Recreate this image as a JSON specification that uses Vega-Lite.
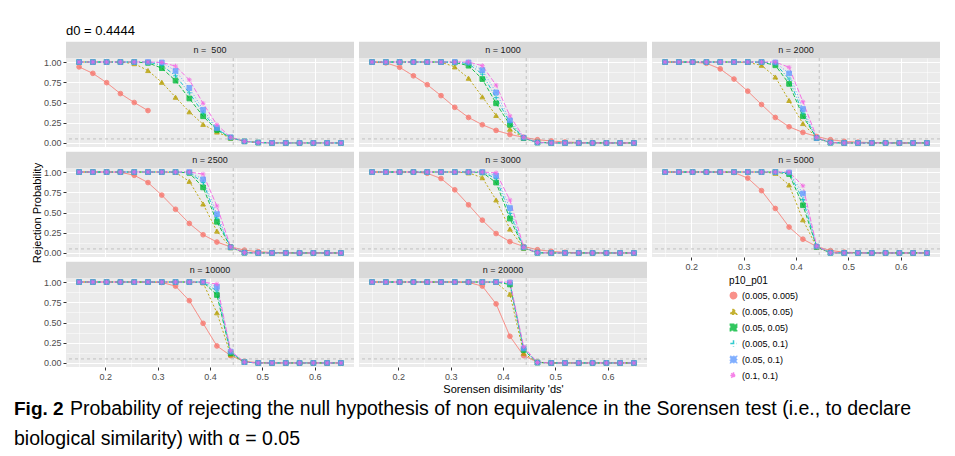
{
  "$schema": "https://vega.github.io/schema/vega-lite/v6.json",
  "background": "white",
  "padding": {"left": 14, "top": 24, "right": 0, "bottom": 0},
  "config": {
    "font": "Liberation Sans",
    "view": {"stroke": null},
    "title": {"fontWeight": "normal", "color": "#000000"}
  },
  "datasets": {
    "d": [
      {"p":"n = \u00a0500","x":0.15,"a":0.94,"b":1,"c":1,"d":1,"e":1,"f":1},
      {"p":"n = \u00a0500","x":0.1763,"a":0.86,"b":1,"c":1,"d":1,"e":1,"f":1},
      {"p":"n = \u00a0500","x":0.2026,"a":0.745,"b":1,"c":1,"d":1,"e":1,"f":1},
      {"p":"n = \u00a0500","x":0.2289,"a":0.61,"b":1,"c":1,"d":1,"e":1,"f":1},
      {"p":"n = \u00a0500","x":0.2553,"a":0.5,"b":0.98,"c":1,"d":1,"e":1,"f":1},
      {"p":"n = \u00a0500","x":0.2816,"a":0.4,"b":0.895,"c":0.99,"d":1,"e":1,"f":1},
      {"p":"n = \u00a0500","x":0.3079,"a":null,"b":0.75,"c":0.925,"d":0.96,"e":0.995,"f":0.995},
      {"p":"n = \u00a0500","x":0.3342,"a":null,"b":0.565,"c":0.77,"d":0.83,"e":0.89,"f":0.95},
      {"p":"n = \u00a0500","x":0.3605,"a":null,"b":0.385,"c":0.55,"d":0.62,"e":0.68,"f":0.78},
      {"p":"n = \u00a0500","x":0.3868,"a":null,"b":0.23,"c":0.33,"d":0.37,"e":0.41,"f":0.49},
      {"p":"n = \u00a0500","x":0.4132,"a":null,"b":0.135,"c":0.16,"d":0.17,"e":0.185,"f":0.225},
      {"p":"n = \u00a0500","x":0.4395,"a":null,"b":0.06,"c":0.065,"d":0.065,"e":0.07,"f":0.07},
      {"p":"n = \u00a0500","x":0.4658,"a":null,"b":0.02,"c":0.02,"d":0.02,"e":0.02,"f":0.02},
      {"p":"n = \u00a0500","x":0.4921,"a":null,"b":0.005,"c":0.005,"d":0.005,"e":0.005,"f":0.005},
      {"p":"n = \u00a0500","x":0.5184,"a":null,"b":0,"c":0,"d":0,"e":0,"f":0},
      {"p":"n = \u00a0500","x":0.5447,"a":null,"b":0,"c":0,"d":0,"e":0,"f":0},
      {"p":"n = \u00a0500","x":0.5711,"a":null,"b":0,"c":0,"d":0,"e":0,"f":0},
      {"p":"n = \u00a0500","x":0.5974,"a":null,"b":0,"c":0,"d":0,"e":0,"f":0},
      {"p":"n = \u00a0500","x":0.6237,"a":null,"b":0,"c":0,"d":0,"e":0,"f":0},
      {"p":"n = \u00a0500","x":0.65,"a":null,"b":0,"c":0,"d":0,"e":0,"f":0},

      {"p":"n = 1000","x":0.15,"a":1,"b":1,"c":1,"d":1,"e":1,"f":1},
      {"p":"n = 1000","x":0.1763,"a":0.99,"b":1,"c":1,"d":1,"e":1,"f":1},
      {"p":"n = 1000","x":0.2026,"a":0.935,"b":1,"c":1,"d":1,"e":1,"f":1},
      {"p":"n = 1000","x":0.2289,"a":0.83,"b":1,"c":1,"d":1,"e":1,"f":1},
      {"p":"n = 1000","x":0.2553,"a":0.72,"b":1,"c":1,"d":1,"e":1,"f":1},
      {"p":"n = 1000","x":0.2816,"a":0.585,"b":1,"c":1,"d":1,"e":1,"f":1},
      {"p":"n = 1000","x":0.3079,"a":0.44,"b":0.94,"c":0.995,"d":1,"e":1,"f":1},
      {"p":"n = 1000","x":0.3342,"a":0.315,"b":0.8,"c":0.955,"d":0.98,"e":0.995,"f":1},
      {"p":"n = 1000","x":0.3605,"a":0.225,"b":0.57,"c":0.79,"d":0.85,"e":0.9,"f":0.955},
      {"p":"n = 1000","x":0.3868,"a":0.155,"b":0.34,"c":0.49,"d":0.56,"e":0.625,"f":0.715},
      {"p":"n = 1000","x":0.4132,"a":0.105,"b":0.17,"c":0.225,"d":0.25,"e":0.28,"f":0.335},
      {"p":"n = 1000","x":0.4395,"a":0.07,"b":0.06,"c":0.06,"d":0.06,"e":0.065,"f":0.07},
      {"p":"n = 1000","x":0.4658,"a":0.04,"b":0.01,"c":0.005,"d":0.005,"e":0.005,"f":0.005},
      {"p":"n = 1000","x":0.4921,"a":0.025,"b":0.002,"c":0,"d":0,"e":0,"f":0},
      {"p":"n = 1000","x":0.5184,"a":0.012,"b":0,"c":0,"d":0,"e":0,"f":0},
      {"p":"n = 1000","x":0.5447,"a":0.006,"b":0,"c":0,"d":0,"e":0,"f":0},
      {"p":"n = 1000","x":0.5711,"a":0.003,"b":0,"c":0,"d":0,"e":0,"f":0},
      {"p":"n = 1000","x":0.5974,"a":0.001,"b":0,"c":0,"d":0,"e":0,"f":0},
      {"p":"n = 1000","x":0.6237,"a":0,"b":0,"c":0,"d":0,"e":0,"f":0},
      {"p":"n = 1000","x":0.65,"a":0,"b":0,"c":0,"d":0,"e":0,"f":0},

      {"p":"n = 2000","x":0.15,"a":1,"b":1,"c":1,"d":1,"e":1,"f":1},
      {"p":"n = 2000","x":0.1763,"a":1,"b":1,"c":1,"d":1,"e":1,"f":1},
      {"p":"n = 2000","x":0.2026,"a":0.998,"b":1,"c":1,"d":1,"e":1,"f":1},
      {"p":"n = 2000","x":0.2289,"a":0.985,"b":1,"c":1,"d":1,"e":1,"f":1},
      {"p":"n = 2000","x":0.2553,"a":0.915,"b":1,"c":1,"d":1,"e":1,"f":1},
      {"p":"n = 2000","x":0.2816,"a":0.79,"b":1,"c":1,"d":1,"e":1,"f":1},
      {"p":"n = 2000","x":0.3079,"a":0.64,"b":0.995,"c":1,"d":1,"e":1,"f":1},
      {"p":"n = 2000","x":0.3342,"a":0.475,"b":0.96,"c":0.998,"d":1,"e":1,"f":1},
      {"p":"n = 2000","x":0.3605,"a":0.315,"b":0.815,"c":0.96,"d":0.98,"e":0.995,"f":1},
      {"p":"n = 2000","x":0.3868,"a":0.2,"b":0.525,"c":0.73,"d":0.79,"e":0.86,"f":0.935},
      {"p":"n = 2000","x":0.4132,"a":0.13,"b":0.24,"c":0.33,"d":0.37,"e":0.42,"f":0.51},
      {"p":"n = 2000","x":0.4395,"a":0.08,"b":0.06,"c":0.06,"d":0.06,"e":0.06,"f":0.07},
      {"p":"n = 2000","x":0.4658,"a":0.04,"b":0.005,"c":0.003,"d":0.003,"e":0.003,"f":0.003},
      {"p":"n = 2000","x":0.4921,"a":0.02,"b":0,"c":0,"d":0,"e":0,"f":0},
      {"p":"n = 2000","x":0.5184,"a":0.01,"b":0,"c":0,"d":0,"e":0,"f":0},
      {"p":"n = 2000","x":0.5447,"a":0.005,"b":0,"c":0,"d":0,"e":0,"f":0},
      {"p":"n = 2000","x":0.5711,"a":0.002,"b":0,"c":0,"d":0,"e":0,"f":0},
      {"p":"n = 2000","x":0.5974,"a":0,"b":0,"c":0,"d":0,"e":0,"f":0},
      {"p":"n = 2000","x":0.6237,"a":0,"b":0,"c":0,"d":0,"e":0,"f":0},
      {"p":"n = 2000","x":0.65,"a":0,"b":0,"c":0,"d":0,"e":0,"f":0},

      {"p":"n = 2500","x":0.15,"a":1,"b":1,"c":1,"d":1,"e":1,"f":1},
      {"p":"n = 2500","x":0.1763,"a":1,"b":1,"c":1,"d":1,"e":1,"f":1},
      {"p":"n = 2500","x":0.2026,"a":1,"b":1,"c":1,"d":1,"e":1,"f":1},
      {"p":"n = 2500","x":0.2289,"a":0.998,"b":1,"c":1,"d":1,"e":1,"f":1},
      {"p":"n = 2500","x":0.2553,"a":0.96,"b":1,"c":1,"d":1,"e":1,"f":1},
      {"p":"n = 2500","x":0.2816,"a":0.87,"b":1,"c":1,"d":1,"e":1,"f":1},
      {"p":"n = 2500","x":0.3079,"a":0.715,"b":1,"c":1,"d":1,"e":1,"f":1},
      {"p":"n = 2500","x":0.3342,"a":0.54,"b":0.995,"c":1,"d":1,"e":1,"f":1},
      {"p":"n = 2500","x":0.3605,"a":0.365,"b":0.885,"c":0.99,"d":0.995,"e":1,"f":1},
      {"p":"n = 2500","x":0.3868,"a":0.225,"b":0.605,"c":0.81,"d":0.87,"e":0.91,"f":0.975},
      {"p":"n = 2500","x":0.4132,"a":0.135,"b":0.27,"c":0.385,"d":0.43,"e":0.48,"f":0.58},
      {"p":"n = 2500","x":0.4395,"a":0.075,"b":0.065,"c":0.07,"d":0.07,"e":0.07,"f":0.075},
      {"p":"n = 2500","x":0.4658,"a":0.035,"b":0.005,"c":0.003,"d":0.003,"e":0.003,"f":0.003},
      {"p":"n = 2500","x":0.4921,"a":0.015,"b":0,"c":0,"d":0,"e":0,"f":0},
      {"p":"n = 2500","x":0.5184,"a":0.006,"b":0,"c":0,"d":0,"e":0,"f":0},
      {"p":"n = 2500","x":0.5447,"a":0.002,"b":0,"c":0,"d":0,"e":0,"f":0},
      {"p":"n = 2500","x":0.5711,"a":0,"b":0,"c":0,"d":0,"e":0,"f":0},
      {"p":"n = 2500","x":0.5974,"a":0,"b":0,"c":0,"d":0,"e":0,"f":0},
      {"p":"n = 2500","x":0.6237,"a":0,"b":0,"c":0,"d":0,"e":0,"f":0},
      {"p":"n = 2500","x":0.65,"a":0,"b":0,"c":0,"d":0,"e":0,"f":0},

      {"p":"n = 3000","x":0.15,"a":1,"b":1,"c":1,"d":1,"e":1,"f":1},
      {"p":"n = 3000","x":0.1763,"a":1,"b":1,"c":1,"d":1,"e":1,"f":1},
      {"p":"n = 3000","x":0.2026,"a":1,"b":1,"c":1,"d":1,"e":1,"f":1},
      {"p":"n = 3000","x":0.2289,"a":1,"b":1,"c":1,"d":1,"e":1,"f":1},
      {"p":"n = 3000","x":0.2553,"a":0.985,"b":1,"c":1,"d":1,"e":1,"f":1},
      {"p":"n = 3000","x":0.2816,"a":0.92,"b":1,"c":1,"d":1,"e":1,"f":1},
      {"p":"n = 3000","x":0.3079,"a":0.78,"b":1,"c":1,"d":1,"e":1,"f":1},
      {"p":"n = 3000","x":0.3342,"a":0.595,"b":0.99,"c":1,"d":1,"e":1,"f":1},
      {"p":"n = 3000","x":0.3605,"a":0.405,"b":0.93,"c":0.995,"d":1,"e":1,"f":1},
      {"p":"n = 3000","x":0.3868,"a":0.24,"b":0.655,"c":0.87,"d":0.92,"e":0.955,"f":0.99},
      {"p":"n = 3000","x":0.4132,"a":0.14,"b":0.295,"c":0.425,"d":0.49,"e":0.555,"f":0.655},
      {"p":"n = 3000","x":0.4395,"a":0.08,"b":0.06,"c":0.065,"d":0.065,"e":0.07,"f":0.07},
      {"p":"n = 3000","x":0.4658,"a":0.04,"b":0.003,"c":0.002,"d":0.002,"e":0.002,"f":0.002},
      {"p":"n = 3000","x":0.4921,"a":0.02,"b":0,"c":0,"d":0,"e":0,"f":0},
      {"p":"n = 3000","x":0.5184,"a":0.008,"b":0,"c":0,"d":0,"e":0,"f":0},
      {"p":"n = 3000","x":0.5447,"a":0.003,"b":0,"c":0,"d":0,"e":0,"f":0},
      {"p":"n = 3000","x":0.5711,"a":0,"b":0,"c":0,"d":0,"e":0,"f":0},
      {"p":"n = 3000","x":0.5974,"a":0,"b":0,"c":0,"d":0,"e":0,"f":0},
      {"p":"n = 3000","x":0.6237,"a":0,"b":0,"c":0,"d":0,"e":0,"f":0},
      {"p":"n = 3000","x":0.65,"a":0,"b":0,"c":0,"d":0,"e":0,"f":0},

      {"p":"n = 5000","x":0.15,"a":1,"b":1,"c":1,"d":1,"e":1,"f":1},
      {"p":"n = 5000","x":0.1763,"a":1,"b":1,"c":1,"d":1,"e":1,"f":1},
      {"p":"n = 5000","x":0.2026,"a":1,"b":1,"c":1,"d":1,"e":1,"f":1},
      {"p":"n = 5000","x":0.2289,"a":1,"b":1,"c":1,"d":1,"e":1,"f":1},
      {"p":"n = 5000","x":0.2553,"a":1,"b":1,"c":1,"d":1,"e":1,"f":1},
      {"p":"n = 5000","x":0.2816,"a":0.995,"b":1,"c":1,"d":1,"e":1,"f":1},
      {"p":"n = 5000","x":0.3079,"a":0.925,"b":1,"c":1,"d":1,"e":1,"f":1},
      {"p":"n = 5000","x":0.3342,"a":0.77,"b":1,"c":1,"d":1,"e":1,"f":1},
      {"p":"n = 5000","x":0.3605,"a":0.55,"b":0.985,"c":1,"d":1,"e":1,"f":1},
      {"p":"n = 5000","x":0.3868,"a":0.32,"b":0.84,"c":0.975,"d":0.99,"e":0.995,"f":1},
      {"p":"n = 5000","x":0.4132,"a":0.17,"b":0.41,"c":0.59,"d":0.66,"e":0.735,"f":0.83},
      {"p":"n = 5000","x":0.4395,"a":0.08,"b":0.07,"c":0.075,"d":0.08,"e":0.08,"f":0.085},
      {"p":"n = 5000","x":0.4658,"a":0.03,"b":0.002,"c":0.002,"d":0.002,"e":0.002,"f":0.002},
      {"p":"n = 5000","x":0.4921,"a":0.01,"b":0,"c":0,"d":0,"e":0,"f":0},
      {"p":"n = 5000","x":0.5184,"a":0.003,"b":0,"c":0,"d":0,"e":0,"f":0},
      {"p":"n = 5000","x":0.5447,"a":0,"b":0,"c":0,"d":0,"e":0,"f":0},
      {"p":"n = 5000","x":0.5711,"a":0,"b":0,"c":0,"d":0,"e":0,"f":0},
      {"p":"n = 5000","x":0.5974,"a":0,"b":0,"c":0,"d":0,"e":0,"f":0},
      {"p":"n = 5000","x":0.6237,"a":0,"b":0,"c":0,"d":0,"e":0,"f":0},
      {"p":"n = 5000","x":0.65,"a":0,"b":0,"c":0,"d":0,"e":0,"f":0},

      {"p":"n = 10000","x":0.15,"a":1,"b":1,"c":1,"d":1,"e":1,"f":1},
      {"p":"n = 10000","x":0.1763,"a":1,"b":1,"c":1,"d":1,"e":1,"f":1},
      {"p":"n = 10000","x":0.2026,"a":1,"b":1,"c":1,"d":1,"e":1,"f":1},
      {"p":"n = 10000","x":0.2289,"a":1,"b":1,"c":1,"d":1,"e":1,"f":1},
      {"p":"n = 10000","x":0.2553,"a":1,"b":1,"c":1,"d":1,"e":1,"f":1},
      {"p":"n = 10000","x":0.2816,"a":1,"b":1,"c":1,"d":1,"e":1,"f":1},
      {"p":"n = 10000","x":0.3079,"a":0.995,"b":1,"c":1,"d":1,"e":1,"f":1},
      {"p":"n = 10000","x":0.3342,"a":0.95,"b":1,"c":1,"d":1,"e":1,"f":1},
      {"p":"n = 10000","x":0.3605,"a":0.77,"b":1,"c":1,"d":1,"e":1,"f":1},
      {"p":"n = 10000","x":0.3868,"a":0.49,"b":0.99,"c":1,"d":1,"e":1,"f":1},
      {"p":"n = 10000","x":0.4132,"a":0.21,"b":0.62,"c":0.84,"d":0.89,"e":0.94,"f":0.975},
      {"p":"n = 10000","x":0.4395,"a":0.09,"b":0.1,"c":0.12,"d":0.13,"e":0.14,"f":0.15},
      {"p":"n = 10000","x":0.4658,"a":0.02,"b":0.01,"c":0.01,"d":0.01,"e":0.01,"f":0.01},
      {"p":"n = 10000","x":0.4921,"a":0.003,"b":0,"c":0,"d":0,"e":0,"f":0},
      {"p":"n = 10000","x":0.5184,"a":0,"b":0,"c":0,"d":0,"e":0,"f":0},
      {"p":"n = 10000","x":0.5447,"a":0,"b":0,"c":0,"d":0,"e":0,"f":0},
      {"p":"n = 10000","x":0.5711,"a":0,"b":0,"c":0,"d":0,"e":0,"f":0},
      {"p":"n = 10000","x":0.5974,"a":0,"b":0,"c":0,"d":0,"e":0,"f":0},
      {"p":"n = 10000","x":0.6237,"a":0,"b":0,"c":0,"d":0,"e":0,"f":0},
      {"p":"n = 10000","x":0.65,"a":0,"b":0,"c":0,"d":0,"e":0,"f":0},

      {"p":"n = 20000","x":0.15,"a":1,"b":1,"c":1,"d":1,"e":1,"f":1},
      {"p":"n = 20000","x":0.1763,"a":1,"b":1,"c":1,"d":1,"e":1,"f":1},
      {"p":"n = 20000","x":0.2026,"a":1,"b":1,"c":1,"d":1,"e":1,"f":1},
      {"p":"n = 20000","x":0.2289,"a":1,"b":1,"c":1,"d":1,"e":1,"f":1},
      {"p":"n = 20000","x":0.2553,"a":1,"b":1,"c":1,"d":1,"e":1,"f":1},
      {"p":"n = 20000","x":0.2816,"a":1,"b":1,"c":1,"d":1,"e":1,"f":1},
      {"p":"n = 20000","x":0.3079,"a":1,"b":1,"c":1,"d":1,"e":1,"f":1},
      {"p":"n = 20000","x":0.3342,"a":0.995,"b":1,"c":1,"d":1,"e":1,"f":1},
      {"p":"n = 20000","x":0.3605,"a":0.95,"b":1,"c":1,"d":1,"e":1,"f":1},
      {"p":"n = 20000","x":0.3868,"a":0.73,"b":0.995,"c":1,"d":1,"e":1,"f":1},
      {"p":"n = 20000","x":0.4132,"a":0.33,"b":0.85,"c":0.97,"d":0.985,"e":0.995,"f":1},
      {"p":"n = 20000","x":0.4395,"a":0.09,"b":0.12,"c":0.16,"d":0.17,"e":0.18,"f":0.2},
      {"p":"n = 20000","x":0.4658,"a":0.01,"b":0.005,"c":0.005,"d":0.005,"e":0.005,"f":0.005},
      {"p":"n = 20000","x":0.4921,"a":0,"b":0,"c":0,"d":0,"e":0,"f":0},
      {"p":"n = 20000","x":0.5184,"a":0,"b":0,"c":0,"d":0,"e":0,"f":0},
      {"p":"n = 20000","x":0.5447,"a":0,"b":0,"c":0,"d":0,"e":0,"f":0},
      {"p":"n = 20000","x":0.5711,"a":0,"b":0,"c":0,"d":0,"e":0,"f":0},
      {"p":"n = 20000","x":0.5974,"a":0,"b":0,"c":0,"d":0,"e":0,"f":0},
      {"p":"n = 20000","x":0.6237,"a":0,"b":0,"c":0,"d":0,"e":0,"f":0},
      {"p":"n = 20000","x":0.65,"a":0,"b":0,"c":0,"d":0,"e":0,"f":0}
    ]
  },
  "spacing": 4,
  "vconcat": [
    {
      "spacing": 16,
      "hconcat": [
        {"data": {"values": []}, "mark": "point", "width": 1, "height": 1},
        {
          "title": {"text": "d0 = 0.4444", "anchor": "start", "frame": "group", "fontSize": 13, "offset": 4},
          "columns": 3,
          "spacing": {"row": 21, "column": 5},
          "bounds": "flush",
          "resolve": {"scale": {"color": "independent", "stroke": "independent", "shape": "independent", "fillOpacity": "independent", "strokeDash": "independent"}},
          "concat": [
            {
              "data": {"name": "d"},
              "transform": [{"filter": "datum.p == 'n = \u00a0500'"}, {"fold": ["a", "b", "c", "d", "e", "f"], "as": ["s", "y"]}],
              "width": 288, "height": 89, "view": {"fill": "#EBEBEB", "stroke": null},
              "resolve": {"axis": {"x": "independent", "y": "independent"}},
              "layer": [
                {"mark": {"type": "line", "strokeWidth": 0.9},
                 "encoding": {
                   "x": {"field": "x", "type": "quantitative", "scale": {"domain": [0.125, 0.675], "nice": false, "zero": false},
                     "axis": {"title": null, "values": [0.2, 0.3, 0.4, 0.5, 0.6], "labels": false, "ticks": false, "domain": false, "grid": true, "gridColor": "#FFFFFF", "gridWidth": 1.1}},
                   "y": {"field": "y", "type": "quantitative", "scale": {"domain": [-0.05, 1.05], "nice": false, "zero": false},
                     "axis": {"title": null, "values": [0, 0.25, 0.5, 0.75, 1], "format": ".2f", "labelOverlap": false, "tickSize": 3, "tickColor": "#333333", "domain": false, "labelColor": "#4D4D4D", "labelFontSize": 9, "labelPadding": 2, "grid": true, "gridColor": "#FFFFFF", "gridWidth": 1.1}},
                   "color": {"field": "s", "type": "nominal", "scale": {"domain": ["a", "b", "c", "d", "e", "f"], "range": ["#F8766D", "#B79F00", "#00BA38", "#00BFC4", "#619CFF", "#F564E3"]}, "legend": null},
                   "strokeDash": {"field": "s", "type": "nominal", "scale": {"domain": ["a", "b", "c", "d", "e", "f"], "range": [[1, 0], [2, 2], [4, 2], [4, 2, 1, 2], [1, 2], [5, 2]]}, "legend": null}}},
                {"mark": {"type": "point", "filled": true, "size": 22, "opacity": 0.8, "strokeWidth": 1},
                 "encoding": {
                   "x": {"field": "x", "type": "quantitative", "axis": {"orient": "top", "title": null, "values": [0.15, 0.25, 0.35, 0.45, 0.55, 0.65], "labels": false, "ticks": false, "domain": false, "grid": true, "gridColor": "#FFFFFF", "gridWidth": 0.5}},
                   "y": {"field": "y", "type": "quantitative", "axis": {"orient": "right", "title": null, "values": [0.125, 0.375, 0.625, 0.875], "labels": false, "ticks": false, "domain": false, "grid": true, "gridColor": "#FFFFFF", "gridWidth": 0.5}},
                   "color": {"field": "s", "type": "nominal", "legend": null},
                   "stroke": {"field": "s", "type": "nominal", "scale": {"domain": ["a", "b", "c", "d", "e", "f"], "range": ["#F8766D", "#B79F00", "#00BA38", "#00BFC4", "#619CFF", "#F564E3"]}, "legend": null},
                   "fillOpacity": {"field": "s", "type": "nominal", "scale": {"domain": ["a", "b", "c", "d", "e", "f"], "range": [1, 1, 1, 0, 0.15, 0]}, "legend": null},
                   "shape": {"field": "s", "type": "nominal", "scale": {"domain": ["a", "b", "c", "d", "e", "f"], "range": ["circle", "triangle-up", "square", "M-1,0H1M0,-1V1", "M-1,-1H1V1H-1ZM-1,-1L1,1M-1,1L1,-1", "M-1,0H1M0,-1V1M-0.7,-0.7L0.7,0.7M-0.7,0.7L0.7,-0.7"]}, "legend": null}}},
                {"transform": [{"aggregate": [{"op": "count", "as": "cnt"}], "groupby": ["p"]}],
                 "layer": [
                   {"mark": {"type": "rect", "fill": "#D9D9D9"}, "encoding": {"x": {"datum": 0.125, "type": "quantitative", "axis": null}, "x2": {"datum": 0.675}, "y": {"datum": 1.05, "type": "quantitative", "axis": null}, "y2": {"datum": 1.25}}},
                   {"mark": {"type": "text", "fontSize": 9, "color": "#1A1A1A"}, "encoding": {"x": {"datum": 0.4, "type": "quantitative", "axis": null}, "y": {"datum": 1.15, "type": "quantitative", "axis": null}, "text": {"field": "p"}}},
                   {"mark": {"type": "rule", "strokeDash": [3, 3], "color": "#AFAFAF", "strokeWidth": 0.7}, "encoding": {"y": {"datum": 0.05, "type": "quantitative", "axis": null}}},
                   {"mark": {"type": "rule", "strokeDash": [3, 3], "color": "#AFAFAF", "strokeWidth": 0.7}, "encoding": {"x": {"datum": 0.4444, "type": "quantitative", "axis": null}}}
                 ]}
              ]
            },
            {
              "data": {"name": "d"},
              "transform": [{"filter": "datum.p == 'n = 1000'"}, {"fold": ["a", "b", "c", "d", "e", "f"], "as": ["s", "y"]}],
              "width": 288, "height": 89, "view": {"fill": "#EBEBEB", "stroke": null},
              "resolve": {"axis": {"x": "independent", "y": "independent"}},
              "layer": [
                {"mark": {"type": "line", "strokeWidth": 0.9},
                 "encoding": {
                   "x": {"field": "x", "type": "quantitative", "scale": {"domain": [0.125, 0.675], "nice": false, "zero": false},
                     "axis": {"title": null, "values": [0.2, 0.3, 0.4, 0.5, 0.6], "labels": false, "ticks": false, "domain": false, "grid": true, "gridColor": "#FFFFFF", "gridWidth": 1.1}},
                   "y": {"field": "y", "type": "quantitative", "scale": {"domain": [-0.05, 1.05], "nice": false, "zero": false},
                     "axis": {"title": null, "values": [0, 0.25, 0.5, 0.75, 1], "labels": false, "ticks": false, "domain": false, "grid": true, "gridColor": "#FFFFFF", "gridWidth": 1.1}},
                   "color": {"field": "s", "type": "nominal", "scale": {"domain": ["a", "b", "c", "d", "e", "f"], "range": ["#F8766D", "#B79F00", "#00BA38", "#00BFC4", "#619CFF", "#F564E3"]}, "legend": null},
                   "strokeDash": {"field": "s", "type": "nominal", "scale": {"domain": ["a", "b", "c", "d", "e", "f"], "range": [[1, 0], [2, 2], [4, 2], [4, 2, 1, 2], [1, 2], [5, 2]]}, "legend": null}}},
                {"mark": {"type": "point", "filled": true, "size": 22, "opacity": 0.8, "strokeWidth": 1},
                 "encoding": {
                   "x": {"field": "x", "type": "quantitative", "axis": {"orient": "top", "title": null, "values": [0.15, 0.25, 0.35, 0.45, 0.55, 0.65], "labels": false, "ticks": false, "domain": false, "grid": true, "gridColor": "#FFFFFF", "gridWidth": 0.5}},
                   "y": {"field": "y", "type": "quantitative", "axis": {"orient": "right", "title": null, "values": [0.125, 0.375, 0.625, 0.875], "labels": false, "ticks": false, "domain": false, "grid": true, "gridColor": "#FFFFFF", "gridWidth": 0.5}},
                   "color": {"field": "s", "type": "nominal", "legend": null},
                   "stroke": {"field": "s", "type": "nominal", "scale": {"domain": ["a", "b", "c", "d", "e", "f"], "range": ["#F8766D", "#B79F00", "#00BA38", "#00BFC4", "#619CFF", "#F564E3"]}, "legend": null},
                   "fillOpacity": {"field": "s", "type": "nominal", "scale": {"domain": ["a", "b", "c", "d", "e", "f"], "range": [1, 1, 1, 0, 0.15, 0]}, "legend": null},
                   "shape": {"field": "s", "type": "nominal", "scale": {"domain": ["a", "b", "c", "d", "e", "f"], "range": ["circle", "triangle-up", "square", "M-1,0H1M0,-1V1", "M-1,-1H1V1H-1ZM-1,-1L1,1M-1,1L1,-1", "M-1,0H1M0,-1V1M-0.7,-0.7L0.7,0.7M-0.7,0.7L0.7,-0.7"]}, "legend": null}}},
                {"transform": [{"aggregate": [{"op": "count", "as": "cnt"}], "groupby": ["p"]}],
                 "layer": [
                   {"mark": {"type": "rect", "fill": "#D9D9D9"}, "encoding": {"x": {"datum": 0.125, "type": "quantitative", "axis": null}, "x2": {"datum": 0.675}, "y": {"datum": 1.05, "type": "quantitative", "axis": null}, "y2": {"datum": 1.25}}},
                   {"mark": {"type": "text", "fontSize": 9, "color": "#1A1A1A"}, "encoding": {"x": {"datum": 0.4, "type": "quantitative", "axis": null}, "y": {"datum": 1.15, "type": "quantitative", "axis": null}, "text": {"field": "p"}}},
                   {"mark": {"type": "rule", "strokeDash": [3, 3], "color": "#AFAFAF", "strokeWidth": 0.7}, "encoding": {"y": {"datum": 0.05, "type": "quantitative", "axis": null}}},
                   {"mark": {"type": "rule", "strokeDash": [3, 3], "color": "#AFAFAF", "strokeWidth": 0.7}, "encoding": {"x": {"datum": 0.4444, "type": "quantitative", "axis": null}}}
                 ]}
              ]
            },
            {
              "data": {"name": "d"},
              "transform": [{"filter": "datum.p == 'n = 2000'"}, {"fold": ["a", "b", "c", "d", "e", "f"], "as": ["s", "y"]}],
              "width": 288, "height": 89, "view": {"fill": "#EBEBEB", "stroke": null},
              "resolve": {"axis": {"x": "independent", "y": "independent"}},
              "layer": [
                {"mark": {"type": "line", "strokeWidth": 0.9},
                 "encoding": {
                   "x": {"field": "x", "type": "quantitative", "scale": {"domain": [0.125, 0.675], "nice": false, "zero": false},
                     "axis": {"title": null, "values": [0.2, 0.3, 0.4, 0.5, 0.6], "labels": false, "ticks": false, "domain": false, "grid": true, "gridColor": "#FFFFFF", "gridWidth": 1.1}},
                   "y": {"field": "y", "type": "quantitative", "scale": {"domain": [-0.05, 1.05], "nice": false, "zero": false},
                     "axis": {"title": null, "values": [0, 0.25, 0.5, 0.75, 1], "labels": false, "ticks": false, "domain": false, "grid": true, "gridColor": "#FFFFFF", "gridWidth": 1.1}},
                   "color": {"field": "s", "type": "nominal", "scale": {"domain": ["a", "b", "c", "d", "e", "f"], "range": ["#F8766D", "#B79F00", "#00BA38", "#00BFC4", "#619CFF", "#F564E3"]}, "legend": null},
                   "strokeDash": {"field": "s", "type": "nominal", "scale": {"domain": ["a", "b", "c", "d", "e", "f"], "range": [[1, 0], [2, 2], [4, 2], [4, 2, 1, 2], [1, 2], [5, 2]]}, "legend": null}}},
                {"mark": {"type": "point", "filled": true, "size": 22, "opacity": 0.8, "strokeWidth": 1},
                 "encoding": {
                   "x": {"field": "x", "type": "quantitative", "axis": {"orient": "top", "title": null, "values": [0.15, 0.25, 0.35, 0.45, 0.55, 0.65], "labels": false, "ticks": false, "domain": false, "grid": true, "gridColor": "#FFFFFF", "gridWidth": 0.5}},
                   "y": {"field": "y", "type": "quantitative", "axis": {"orient": "right", "title": null, "values": [0.125, 0.375, 0.625, 0.875], "labels": false, "ticks": false, "domain": false, "grid": true, "gridColor": "#FFFFFF", "gridWidth": 0.5}},
                   "color": {"field": "s", "type": "nominal", "legend": null},
                   "stroke": {"field": "s", "type": "nominal", "scale": {"domain": ["a", "b", "c", "d", "e", "f"], "range": ["#F8766D", "#B79F00", "#00BA38", "#00BFC4", "#619CFF", "#F564E3"]}, "legend": null},
                   "fillOpacity": {"field": "s", "type": "nominal", "scale": {"domain": ["a", "b", "c", "d", "e", "f"], "range": [1, 1, 1, 0, 0.15, 0]}, "legend": null},
                   "shape": {"field": "s", "type": "nominal", "scale": {"domain": ["a", "b", "c", "d", "e", "f"], "range": ["circle", "triangle-up", "square", "M-1,0H1M0,-1V1", "M-1,-1H1V1H-1ZM-1,-1L1,1M-1,1L1,-1", "M-1,0H1M0,-1V1M-0.7,-0.7L0.7,0.7M-0.7,0.7L0.7,-0.7"]}, "legend": null}}},
                {"transform": [{"aggregate": [{"op": "count", "as": "cnt"}], "groupby": ["p"]}],
                 "layer": [
                   {"mark": {"type": "rect", "fill": "#D9D9D9"}, "encoding": {"x": {"datum": 0.125, "type": "quantitative", "axis": null}, "x2": {"datum": 0.675}, "y": {"datum": 1.05, "type": "quantitative", "axis": null}, "y2": {"datum": 1.25}}},
                   {"mark": {"type": "text", "fontSize": 9, "color": "#1A1A1A"}, "encoding": {"x": {"datum": 0.4, "type": "quantitative", "axis": null}, "y": {"datum": 1.15, "type": "quantitative", "axis": null}, "text": {"field": "p"}}},
                   {"mark": {"type": "rule", "strokeDash": [3, 3], "color": "#AFAFAF", "strokeWidth": 0.7}, "encoding": {"y": {"datum": 0.05, "type": "quantitative", "axis": null}}},
                   {"mark": {"type": "rule", "strokeDash": [3, 3], "color": "#AFAFAF", "strokeWidth": 0.7}, "encoding": {"x": {"datum": 0.4444, "type": "quantitative", "axis": null}}}
                 ]}
              ]
            },
            {
              "data": {"name": "d"},
              "transform": [{"filter": "datum.p == 'n = 2500'"}, {"fold": ["a", "b", "c", "d", "e", "f"], "as": ["s", "y"]}],
              "width": 288, "height": 89, "view": {"fill": "#EBEBEB", "stroke": null},
              "resolve": {"axis": {"x": "independent", "y": "independent"}},
              "layer": [
                {"mark": {"type": "line", "strokeWidth": 0.9},
                 "encoding": {
                   "x": {"field": "x", "type": "quantitative", "scale": {"domain": [0.125, 0.675], "nice": false, "zero": false},
                     "axis": {"title": null, "values": [0.2, 0.3, 0.4, 0.5, 0.6], "labels": false, "ticks": false, "domain": false, "grid": true, "gridColor": "#FFFFFF", "gridWidth": 1.1}},
                   "y": {"field": "y", "type": "quantitative", "scale": {"domain": [-0.05, 1.05], "nice": false, "zero": false},
                     "axis": {"title": "Rejection Probability", "titleFontSize": 11, "titleFontWeight": "normal", "titleColor": "#000000", "titlePadding": 1, "values": [0, 0.25, 0.5, 0.75, 1], "format": ".2f", "labelOverlap": false, "tickSize": 3, "tickColor": "#333333", "domain": false, "labelColor": "#4D4D4D", "labelFontSize": 9, "labelPadding": 2, "grid": true, "gridColor": "#FFFFFF", "gridWidth": 1.1}},
                   "color": {"field": "s", "type": "nominal", "scale": {"domain": ["a", "b", "c", "d", "e", "f"], "range": ["#F8766D", "#B79F00", "#00BA38", "#00BFC4", "#619CFF", "#F564E3"]}, "legend": null},
                   "strokeDash": {"field": "s", "type": "nominal", "scale": {"domain": ["a", "b", "c", "d", "e", "f"], "range": [[1, 0], [2, 2], [4, 2], [4, 2, 1, 2], [1, 2], [5, 2]]}, "legend": null}}},
                {"mark": {"type": "point", "filled": true, "size": 22, "opacity": 0.8, "strokeWidth": 1},
                 "encoding": {
                   "x": {"field": "x", "type": "quantitative", "axis": {"orient": "top", "title": null, "values": [0.15, 0.25, 0.35, 0.45, 0.55, 0.65], "labels": false, "ticks": false, "domain": false, "grid": true, "gridColor": "#FFFFFF", "gridWidth": 0.5}},
                   "y": {"field": "y", "type": "quantitative", "axis": {"orient": "right", "title": null, "values": [0.125, 0.375, 0.625, 0.875], "labels": false, "ticks": false, "domain": false, "grid": true, "gridColor": "#FFFFFF", "gridWidth": 0.5}},
                   "color": {"field": "s", "type": "nominal", "legend": null},
                   "stroke": {"field": "s", "type": "nominal", "scale": {"domain": ["a", "b", "c", "d", "e", "f"], "range": ["#F8766D", "#B79F00", "#00BA38", "#00BFC4", "#619CFF", "#F564E3"]}, "legend": null},
                   "fillOpacity": {"field": "s", "type": "nominal", "scale": {"domain": ["a", "b", "c", "d", "e", "f"], "range": [1, 1, 1, 0, 0.15, 0]}, "legend": null},
                   "shape": {"field": "s", "type": "nominal", "scale": {"domain": ["a", "b", "c", "d", "e", "f"], "range": ["circle", "triangle-up", "square", "M-1,0H1M0,-1V1", "M-1,-1H1V1H-1ZM-1,-1L1,1M-1,1L1,-1", "M-1,0H1M0,-1V1M-0.7,-0.7L0.7,0.7M-0.7,0.7L0.7,-0.7"]}, "legend": null}}},
                {"transform": [{"aggregate": [{"op": "count", "as": "cnt"}], "groupby": ["p"]}],
                 "layer": [
                   {"mark": {"type": "rect", "fill": "#D9D9D9"}, "encoding": {"x": {"datum": 0.125, "type": "quantitative", "axis": null}, "x2": {"datum": 0.675}, "y": {"datum": 1.05, "type": "quantitative", "axis": null}, "y2": {"datum": 1.25}}},
                   {"mark": {"type": "text", "fontSize": 9, "color": "#1A1A1A"}, "encoding": {"x": {"datum": 0.4, "type": "quantitative", "axis": null}, "y": {"datum": 1.15, "type": "quantitative", "axis": null}, "text": {"field": "p"}}},
                   {"mark": {"type": "rule", "strokeDash": [3, 3], "color": "#AFAFAF", "strokeWidth": 0.7}, "encoding": {"y": {"datum": 0.05, "type": "quantitative", "axis": null}}},
                   {"mark": {"type": "rule", "strokeDash": [3, 3], "color": "#AFAFAF", "strokeWidth": 0.7}, "encoding": {"x": {"datum": 0.4444, "type": "quantitative", "axis": null}}}
                 ]}
              ]
            },
            {
              "data": {"name": "d"},
              "transform": [{"filter": "datum.p == 'n = 3000'"}, {"fold": ["a", "b", "c", "d", "e", "f"], "as": ["s", "y"]}],
              "width": 288, "height": 89, "view": {"fill": "#EBEBEB", "stroke": null},
              "resolve": {"axis": {"x": "independent", "y": "independent"}},
              "layer": [
                {"mark": {"type": "line", "strokeWidth": 0.9},
                 "encoding": {
                   "x": {"field": "x", "type": "quantitative", "scale": {"domain": [0.125, 0.675], "nice": false, "zero": false},
                     "axis": {"title": null, "values": [0.2, 0.3, 0.4, 0.5, 0.6], "labels": false, "ticks": false, "domain": false, "grid": true, "gridColor": "#FFFFFF", "gridWidth": 1.1}},
                   "y": {"field": "y", "type": "quantitative", "scale": {"domain": [-0.05, 1.05], "nice": false, "zero": false},
                     "axis": {"title": null, "values": [0, 0.25, 0.5, 0.75, 1], "labels": false, "ticks": false, "domain": false, "grid": true, "gridColor": "#FFFFFF", "gridWidth": 1.1}},
                   "color": {"field": "s", "type": "nominal", "scale": {"domain": ["a", "b", "c", "d", "e", "f"], "range": ["#F8766D", "#B79F00", "#00BA38", "#00BFC4", "#619CFF", "#F564E3"]}, "legend": null},
                   "strokeDash": {"field": "s", "type": "nominal", "scale": {"domain": ["a", "b", "c", "d", "e", "f"], "range": [[1, 0], [2, 2], [4, 2], [4, 2, 1, 2], [1, 2], [5, 2]]}, "legend": null}}},
                {"mark": {"type": "point", "filled": true, "size": 22, "opacity": 0.8, "strokeWidth": 1},
                 "encoding": {
                   "x": {"field": "x", "type": "quantitative", "axis": {"orient": "top", "title": null, "values": [0.15, 0.25, 0.35, 0.45, 0.55, 0.65], "labels": false, "ticks": false, "domain": false, "grid": true, "gridColor": "#FFFFFF", "gridWidth": 0.5}},
                   "y": {"field": "y", "type": "quantitative", "axis": {"orient": "right", "title": null, "values": [0.125, 0.375, 0.625, 0.875], "labels": false, "ticks": false, "domain": false, "grid": true, "gridColor": "#FFFFFF", "gridWidth": 0.5}},
                   "color": {"field": "s", "type": "nominal", "legend": null},
                   "stroke": {"field": "s", "type": "nominal", "scale": {"domain": ["a", "b", "c", "d", "e", "f"], "range": ["#F8766D", "#B79F00", "#00BA38", "#00BFC4", "#619CFF", "#F564E3"]}, "legend": null},
                   "fillOpacity": {"field": "s", "type": "nominal", "scale": {"domain": ["a", "b", "c", "d", "e", "f"], "range": [1, 1, 1, 0, 0.15, 0]}, "legend": null},
                   "shape": {"field": "s", "type": "nominal", "scale": {"domain": ["a", "b", "c", "d", "e", "f"], "range": ["circle", "triangle-up", "square", "M-1,0H1M0,-1V1", "M-1,-1H1V1H-1ZM-1,-1L1,1M-1,1L1,-1", "M-1,0H1M0,-1V1M-0.7,-0.7L0.7,0.7M-0.7,0.7L0.7,-0.7"]}, "legend": null}}},
                {"transform": [{"aggregate": [{"op": "count", "as": "cnt"}], "groupby": ["p"]}],
                 "layer": [
                   {"mark": {"type": "rect", "fill": "#D9D9D9"}, "encoding": {"x": {"datum": 0.125, "type": "quantitative", "axis": null}, "x2": {"datum": 0.675}, "y": {"datum": 1.05, "type": "quantitative", "axis": null}, "y2": {"datum": 1.25}}},
                   {"mark": {"type": "text", "fontSize": 9, "color": "#1A1A1A"}, "encoding": {"x": {"datum": 0.4, "type": "quantitative", "axis": null}, "y": {"datum": 1.15, "type": "quantitative", "axis": null}, "text": {"field": "p"}}},
                   {"mark": {"type": "rule", "strokeDash": [3, 3], "color": "#AFAFAF", "strokeWidth": 0.7}, "encoding": {"y": {"datum": 0.05, "type": "quantitative", "axis": null}}},
                   {"mark": {"type": "rule", "strokeDash": [3, 3], "color": "#AFAFAF", "strokeWidth": 0.7}, "encoding": {"x": {"datum": 0.4444, "type": "quantitative", "axis": null}}}
                 ]}
              ]
            },
            {
              "data": {"name": "d"},
              "transform": [{"filter": "datum.p == 'n = 5000'"}, {"fold": ["a", "b", "c", "d", "e", "f"], "as": ["s", "y"]}],
              "width": 288, "height": 89, "view": {"fill": "#EBEBEB", "stroke": null},
              "resolve": {"axis": {"x": "independent", "y": "independent"}},
              "layer": [
                {"mark": {"type": "line", "strokeWidth": 0.9},
                 "encoding": {
                   "x": {"field": "x", "type": "quantitative", "scale": {"domain": [0.125, 0.675], "nice": false, "zero": false},
                     "axis": {"title": null, "values": [0.2, 0.3, 0.4, 0.5, 0.6], "format": ".1f", "labelOverlap": false, "tickSize": 3, "tickColor": "#333333", "domain": false, "labelColor": "#4D4D4D", "labelFontSize": 9, "labelPadding": 2, "grid": true, "gridColor": "#FFFFFF", "gridWidth": 1.1}},
                   "y": {"field": "y", "type": "quantitative", "scale": {"domain": [-0.05, 1.05], "nice": false, "zero": false},
                     "axis": {"title": null, "values": [0, 0.25, 0.5, 0.75, 1], "labels": false, "ticks": false, "domain": false, "grid": true, "gridColor": "#FFFFFF", "gridWidth": 1.1}},
                   "color": {"field": "s", "type": "nominal", "scale": {"domain": ["a", "b", "c", "d", "e", "f"], "range": ["#F8766D", "#B79F00", "#00BA38", "#00BFC4", "#619CFF", "#F564E3"]}, "legend": null},
                   "strokeDash": {"field": "s", "type": "nominal", "scale": {"domain": ["a", "b", "c", "d", "e", "f"], "range": [[1, 0], [2, 2], [4, 2], [4, 2, 1, 2], [1, 2], [5, 2]]}, "legend": null}}},
                {"mark": {"type": "point", "filled": true, "size": 22, "opacity": 0.8, "strokeWidth": 1},
                 "encoding": {
                   "x": {"field": "x", "type": "quantitative", "axis": {"orient": "top", "title": null, "values": [0.15, 0.25, 0.35, 0.45, 0.55, 0.65], "labels": false, "ticks": false, "domain": false, "grid": true, "gridColor": "#FFFFFF", "gridWidth": 0.5}},
                   "y": {"field": "y", "type": "quantitative", "axis": {"orient": "right", "title": null, "values": [0.125, 0.375, 0.625, 0.875], "labels": false, "ticks": false, "domain": false, "grid": true, "gridColor": "#FFFFFF", "gridWidth": 0.5}},
                   "color": {"field": "s", "type": "nominal", "legend": null},
                   "stroke": {"field": "s", "type": "nominal", "scale": {"domain": ["a", "b", "c", "d", "e", "f"], "range": ["#F8766D", "#B79F00", "#00BA38", "#00BFC4", "#619CFF", "#F564E3"]}, "legend": null},
                   "fillOpacity": {"field": "s", "type": "nominal", "scale": {"domain": ["a", "b", "c", "d", "e", "f"], "range": [1, 1, 1, 0, 0.15, 0]}, "legend": null},
                   "shape": {"field": "s", "type": "nominal", "scale": {"domain": ["a", "b", "c", "d", "e", "f"], "range": ["circle", "triangle-up", "square", "M-1,0H1M0,-1V1", "M-1,-1H1V1H-1ZM-1,-1L1,1M-1,1L1,-1", "M-1,0H1M0,-1V1M-0.7,-0.7L0.7,0.7M-0.7,0.7L0.7,-0.7"]}, "legend": null}}},
                {"transform": [{"aggregate": [{"op": "count", "as": "cnt"}], "groupby": ["p"]}],
                 "layer": [
                   {"mark": {"type": "rect", "fill": "#D9D9D9"}, "encoding": {"x": {"datum": 0.125, "type": "quantitative", "axis": null}, "x2": {"datum": 0.675}, "y": {"datum": 1.05, "type": "quantitative", "axis": null}, "y2": {"datum": 1.25}}},
                   {"mark": {"type": "text", "fontSize": 9, "color": "#1A1A1A"}, "encoding": {"x": {"datum": 0.4, "type": "quantitative", "axis": null}, "y": {"datum": 1.15, "type": "quantitative", "axis": null}, "text": {"field": "p"}}},
                   {"mark": {"type": "rule", "strokeDash": [3, 3], "color": "#AFAFAF", "strokeWidth": 0.7}, "encoding": {"y": {"datum": 0.05, "type": "quantitative", "axis": null}}},
                   {"mark": {"type": "rule", "strokeDash": [3, 3], "color": "#AFAFAF", "strokeWidth": 0.7}, "encoding": {"x": {"datum": 0.4444, "type": "quantitative", "axis": null}}}
                 ]}
              ]
            },
            {
              "data": {"name": "d"},
              "transform": [{"filter": "datum.p == 'n = 10000'"}, {"fold": ["a", "b", "c", "d", "e", "f"], "as": ["s", "y"]}],
              "width": 288, "height": 89, "view": {"fill": "#EBEBEB", "stroke": null},
              "resolve": {"axis": {"x": "independent", "y": "independent"}},
              "layer": [
                {"mark": {"type": "line", "strokeWidth": 0.9},
                 "encoding": {
                   "x": {"field": "x", "type": "quantitative", "scale": {"domain": [0.125, 0.675], "nice": false, "zero": false},
                     "axis": {"title": null, "values": [0.2, 0.3, 0.4, 0.5, 0.6], "format": ".1f", "labelOverlap": false, "tickSize": 3, "tickColor": "#333333", "domain": false, "labelColor": "#4D4D4D", "labelFontSize": 9, "labelPadding": 2, "grid": true, "gridColor": "#FFFFFF", "gridWidth": 1.1}},
                   "y": {"field": "y", "type": "quantitative", "scale": {"domain": [-0.05, 1.05], "nice": false, "zero": false},
                     "axis": {"title": null, "values": [0, 0.25, 0.5, 0.75, 1], "format": ".2f", "labelOverlap": false, "tickSize": 3, "tickColor": "#333333", "domain": false, "labelColor": "#4D4D4D", "labelFontSize": 9, "labelPadding": 2, "grid": true, "gridColor": "#FFFFFF", "gridWidth": 1.1}},
                   "color": {"field": "s", "type": "nominal", "scale": {"domain": ["a", "b", "c", "d", "e", "f"], "range": ["#F8766D", "#B79F00", "#00BA38", "#00BFC4", "#619CFF", "#F564E3"]}, "legend": null},
                   "strokeDash": {"field": "s", "type": "nominal", "scale": {"domain": ["a", "b", "c", "d", "e", "f"], "range": [[1, 0], [2, 2], [4, 2], [4, 2, 1, 2], [1, 2], [5, 2]]}, "legend": null}}},
                {"mark": {"type": "point", "filled": true, "size": 22, "opacity": 0.8, "strokeWidth": 1},
                 "encoding": {
                   "x": {"field": "x", "type": "quantitative", "axis": {"orient": "top", "title": null, "values": [0.15, 0.25, 0.35, 0.45, 0.55, 0.65], "labels": false, "ticks": false, "domain": false, "grid": true, "gridColor": "#FFFFFF", "gridWidth": 0.5}},
                   "y": {"field": "y", "type": "quantitative", "axis": {"orient": "right", "title": null, "values": [0.125, 0.375, 0.625, 0.875], "labels": false, "ticks": false, "domain": false, "grid": true, "gridColor": "#FFFFFF", "gridWidth": 0.5}},
                   "color": {"field": "s", "type": "nominal", "legend": null},
                   "stroke": {"field": "s", "type": "nominal", "scale": {"domain": ["a", "b", "c", "d", "e", "f"], "range": ["#F8766D", "#B79F00", "#00BA38", "#00BFC4", "#619CFF", "#F564E3"]}, "legend": null},
                   "fillOpacity": {"field": "s", "type": "nominal", "scale": {"domain": ["a", "b", "c", "d", "e", "f"], "range": [1, 1, 1, 0, 0.15, 0]}, "legend": null},
                   "shape": {"field": "s", "type": "nominal", "scale": {"domain": ["a", "b", "c", "d", "e", "f"], "range": ["circle", "triangle-up", "square", "M-1,0H1M0,-1V1", "M-1,-1H1V1H-1ZM-1,-1L1,1M-1,1L1,-1", "M-1,0H1M0,-1V1M-0.7,-0.7L0.7,0.7M-0.7,0.7L0.7,-0.7"]}, "legend": null}}},
                {"transform": [{"aggregate": [{"op": "count", "as": "cnt"}], "groupby": ["p"]}],
                 "layer": [
                   {"mark": {"type": "rect", "fill": "#D9D9D9"}, "encoding": {"x": {"datum": 0.125, "type": "quantitative", "axis": null}, "x2": {"datum": 0.675}, "y": {"datum": 1.05, "type": "quantitative", "axis": null}, "y2": {"datum": 1.25}}},
                   {"mark": {"type": "text", "fontSize": 9, "color": "#1A1A1A"}, "encoding": {"x": {"datum": 0.4, "type": "quantitative", "axis": null}, "y": {"datum": 1.15, "type": "quantitative", "axis": null}, "text": {"field": "p"}}},
                   {"mark": {"type": "rule", "strokeDash": [3, 3], "color": "#AFAFAF", "strokeWidth": 0.7}, "encoding": {"y": {"datum": 0.05, "type": "quantitative", "axis": null}}},
                   {"mark": {"type": "rule", "strokeDash": [3, 3], "color": "#AFAFAF", "strokeWidth": 0.7}, "encoding": {"x": {"datum": 0.4444, "type": "quantitative", "axis": null}}}
                 ]}
              ]
            },
            {
              "data": {"name": "d"},
              "transform": [{"filter": "datum.p == 'n = 20000'"}, {"fold": ["a", "b", "c", "d", "e", "f"], "as": ["s", "y"]}],
              "width": 288, "height": 89, "view": {"fill": "#EBEBEB", "stroke": null},
              "resolve": {"axis": {"x": "independent", "y": "independent"}},
              "layer": [
                {"mark": {"type": "line", "strokeWidth": 0.9},
                 "encoding": {
                   "x": {"field": "x", "type": "quantitative", "scale": {"domain": [0.125, 0.675], "nice": false, "zero": false},
                     "axis": {"title": "Sorensen disimilarity 'ds'", "titleFontSize": 11, "titleFontWeight": "normal", "titleColor": "#000000", "titlePadding": 2, "values": [0.2, 0.3, 0.4, 0.5, 0.6], "format": ".1f", "labelOverlap": false, "tickSize": 3, "tickColor": "#333333", "domain": false, "labelColor": "#4D4D4D", "labelFontSize": 9, "labelPadding": 2, "grid": true, "gridColor": "#FFFFFF", "gridWidth": 1.1}},
                   "y": {"field": "y", "type": "quantitative", "scale": {"domain": [-0.05, 1.05], "nice": false, "zero": false},
                     "axis": {"title": null, "values": [0, 0.25, 0.5, 0.75, 1], "labels": false, "ticks": false, "domain": false, "grid": true, "gridColor": "#FFFFFF", "gridWidth": 1.1}},
                   "color": {"field": "s", "type": "nominal", "scale": {"domain": ["a", "b", "c", "d", "e", "f"], "range": ["#F8766D", "#B79F00", "#00BA38", "#00BFC4", "#619CFF", "#F564E3"]},
                     "legend": {"title": "p10_p01", "orient": "none", "legendX": 370, "legendY": -2,
                       "labelExpr": "{'a': '(0.005, 0.005)', 'b': '(0.005, 0.05)', 'c': '(0.05, 0.05)', 'd': '(0.005, 0.1)', 'e': '(0.05, 0.1)', 'f': '(0.1, 0.1)'}[datum.label]",
                       "titleFontSize": 10, "titleFontWeight": "normal", "labelFontSize": 9, "labelColor": "#000000", "rowPadding": 3, "symbolSize": 40}},
                   "strokeDash": {"field": "s", "type": "nominal", "scale": {"domain": ["a", "b", "c", "d", "e", "f"], "range": [[1, 0], [2, 2], [4, 2], [4, 2, 1, 2], [1, 2], [5, 2]]}, "legend": null}}},
                {"mark": {"type": "point", "filled": true, "size": 22, "opacity": 0.8, "strokeWidth": 1},
                 "encoding": {
                   "x": {"field": "x", "type": "quantitative", "axis": {"orient": "top", "title": null, "values": [0.15, 0.25, 0.35, 0.45, 0.55, 0.65], "labels": false, "ticks": false, "domain": false, "grid": true, "gridColor": "#FFFFFF", "gridWidth": 0.5}},
                   "y": {"field": "y", "type": "quantitative", "axis": {"orient": "right", "title": null, "values": [0.125, 0.375, 0.625, 0.875], "labels": false, "ticks": false, "domain": false, "grid": true, "gridColor": "#FFFFFF", "gridWidth": 0.5}},
                   "color": {"field": "s", "type": "nominal"},
                   "stroke": {"field": "s", "type": "nominal", "scale": {"domain": ["a", "b", "c", "d", "e", "f"], "range": ["#F8766D", "#B79F00", "#00BA38", "#00BFC4", "#619CFF", "#F564E3"]}},
                   "fillOpacity": {"field": "s", "type": "nominal", "scale": {"domain": ["a", "b", "c", "d", "e", "f"], "range": [1, 1, 1, 0, 0.15, 0]}},
                   "shape": {"field": "s", "type": "nominal", "scale": {"domain": ["a", "b", "c", "d", "e", "f"], "range": ["circle", "triangle-up", "square", "M-1,0H1M0,-1V1", "M-1,-1H1V1H-1ZM-1,-1L1,1M-1,1L1,-1", "M-1,0H1M0,-1V1M-0.7,-0.7L0.7,0.7M-0.7,0.7L0.7,-0.7"]}}}},
                {"transform": [{"aggregate": [{"op": "count", "as": "cnt"}], "groupby": ["p"]}],
                 "layer": [
                   {"mark": {"type": "rect", "fill": "#D9D9D9"}, "encoding": {"x": {"datum": 0.125, "type": "quantitative", "axis": null}, "x2": {"datum": 0.675}, "y": {"datum": 1.05, "type": "quantitative", "axis": null}, "y2": {"datum": 1.25}}},
                   {"mark": {"type": "text", "fontSize": 9, "color": "#1A1A1A"}, "encoding": {"x": {"datum": 0.4, "type": "quantitative", "axis": null}, "y": {"datum": 1.15, "type": "quantitative", "axis": null}, "text": {"field": "p"}}},
                   {"mark": {"type": "rule", "strokeDash": [3, 3], "color": "#AFAFAF", "strokeWidth": 0.7}, "encoding": {"y": {"datum": 0.05, "type": "quantitative", "axis": null}}},
                   {"mark": {"type": "rule", "strokeDash": [3, 3], "color": "#AFAFAF", "strokeWidth": 0.7}, "encoding": {"x": {"datum": 0.4444, "type": "quantitative", "axis": null}}}
                 ]}
              ]
            }
          ]
        }
      ]
    },
    {
      "spacing": 6,
      "hconcat": [
        {"data": {"values": []}, "mark": "point", "width": 1, "height": 1,
         "title": {"text": "Fig. 2", "anchor": "start", "fontSize": 19, "fontWeight": "bold"}},
        {"data": {"values": []}, "mark": "point", "width": 1, "height": 1,
         "title": {"text": "Probability of rejecting the null hypothesis of non equivalence in the Sorensen test (i.e., to declare", "anchor": "start", "fontSize": 19.5}}
      ]
    },
    {"data": {"values": []}, "mark": "point", "width": 1, "height": 1,
     "title": {"text": "biological similarity) with α = 0.05", "anchor": "start", "fontSize": 19.5}}
  ]
}
